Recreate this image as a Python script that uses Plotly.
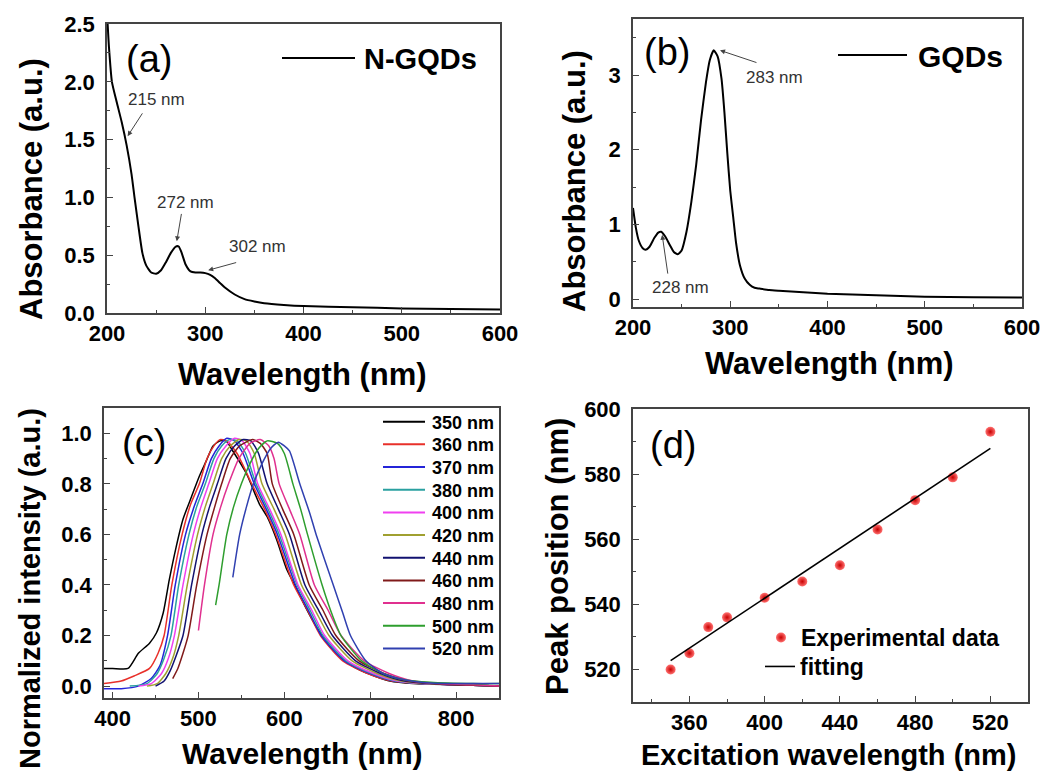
import plotly.graph_objects as go

W, H = 1045, 775
FONT = "Liberation Sans, Arial, sans-serif"
AXC = "#444444"

# ---------------- data ----------------
# (a) N-GQDs absorbance
a_wl = [200, 202, 205, 210, 215, 220, 225, 228, 232, 236, 240, 245, 250, 255, 260, 265, 270, 273,
        276, 280, 285, 290, 295, 300, 305, 310, 315, 320, 330, 340, 350, 360, 380, 400, 450, 500, 550, 600]
a_abs = [2.6, 2.3, 2.0, 1.82, 1.65, 1.45, 1.2, 1.0, 0.75, 0.52, 0.41, 0.35, 0.34, 0.37, 0.44, 0.52, 0.575, 0.575,
         0.52, 0.42, 0.36, 0.35, 0.35, 0.345, 0.33, 0.3, 0.26, 0.22, 0.16, 0.12, 0.1, 0.085, 0.07, 0.06, 0.05, 0.04, 0.035, 0.03]

# (b) GQDs absorbance
b_wl = [200, 203, 206, 210, 213, 217, 222, 226, 229, 233, 238, 242, 246, 250, 255, 260, 265, 270, 275, 279,
        283, 287, 291, 294, 297, 300, 303, 306, 310, 315, 320, 325, 330, 340, 350, 375, 400, 450, 500, 550, 600]
b_abs = [1.22, 0.95, 0.78, 0.68, 0.66, 0.7, 0.82, 0.89, 0.9, 0.84, 0.72, 0.63, 0.6, 0.65, 0.9, 1.3, 1.8, 2.4, 2.9, 3.2,
         3.33, 3.25, 2.95, 2.5, 1.95, 1.45, 1.1, 0.75, 0.45, 0.27, 0.19, 0.15, 0.14, 0.12, 0.11, 0.09, 0.07, 0.05, 0.03, 0.025, 0.02]

# (c) normalized PL spectra for each excitation wavelength
c_labels = ["350 nm", "360 nm", "370 nm", "380 nm", "400 nm", "420 nm",
            "440 nm", "460 nm", "480 nm", "500 nm", "520 nm"]
c_colors = ["#000000", "#E8302A", "#2424D8", "#2AA0A0", "#F040F0", "#A0A030",
            "#121270", "#801A1A", "#E0308F", "#2E9E2E", "#3040B0"]
c_x = [
    [390, 400, 418, 430, 443, 451, 459, 466, 474, 482, 492, 501, 509, 517, 525, 532, 540, 556, 571, 580, 591, 603, 612, 625, 638, 657, 675, 688, 705, 723, 750, 800, 850],
    [390, 410, 425, 443, 453, 460, 469, 481, 491, 501, 510, 518, 525, 533, 545, 562, 577, 590, 611, 627, 642, 668, 697, 725, 760, 800, 850],
    [390, 410, 430, 445, 455, 464, 473, 485, 495, 505, 515, 524, 533, 542, 552, 565, 579, 592, 613, 628, 643, 670, 700, 728, 760, 800, 850],
    [420, 440, 452, 460, 468, 477, 489, 498, 508, 518, 527, 536, 545, 555, 567, 581, 594, 615, 630, 645, 672, 702, 730, 760, 800, 850],
    [430, 445, 457, 465, 472, 482, 494, 503, 512, 522, 532, 542, 551, 560, 569, 583, 596, 616, 632, 647, 674, 704, 732, 762, 800, 850],
    [440, 452, 462, 470, 477, 487, 499, 508, 517, 527, 537, 547, 556, 565, 574, 588, 601, 620, 636, 652, 679, 708, 736, 765, 800, 850],
    [450, 460, 467, 474, 482, 492, 504, 513, 522, 532, 542, 552, 561, 570, 580, 593, 606, 624, 640, 656, 683, 712, 740, 770, 800, 850],
    [470, 476, 482, 488, 498, 510, 519, 527, 537, 548, 563, 572, 580, 586, 598, 611, 629, 645, 660, 687, 716, 744, 772, 800, 850],
    [500, 507, 517, 526, 535, 547, 560, 572, 582, 588, 594, 606, 618, 635, 651, 666, 693, 722, 750, 780, 820, 850],
    [520, 524, 533, 541, 550, 560, 570, 580, 592, 600, 610, 619, 627, 644, 656, 666, 690, 715, 740, 770, 820, 850],
    [540, 548, 556, 564, 574, 584, 593, 600, 606, 618, 630, 637, 657, 668, 677, 695, 715, 740, 770, 820, 850],
]
c_y = [
    [0.07, 0.07, 0.07, 0.13, 0.17, 0.21, 0.29, 0.42, 0.55, 0.66, 0.75, 0.83, 0.89, 0.95, 0.97, 0.97, 0.93, 0.84, 0.72, 0.67, 0.58, 0.46, 0.40, 0.31, 0.23, 0.14, 0.09, 0.063, 0.04, 0.02, 0.01, 0.005, 0.0],
    [0.01, 0.02, 0.04, 0.07, 0.13, 0.2, 0.4, 0.6, 0.72, 0.8, 0.9, 0.95, 0.975, 0.97, 0.92, 0.8, 0.7, 0.6, 0.4, 0.3, 0.2, 0.1, 0.05, 0.02, 0.01, 0.005, 0.0],
    [-0.01, -0.01, 0.0, 0.03, 0.08, 0.2, 0.4, 0.6, 0.71, 0.8, 0.9, 0.95, 0.98, 0.97, 0.92, 0.8, 0.7, 0.6, 0.4, 0.3, 0.2, 0.1, 0.05, 0.02, 0.01, 0.005, 0.0],
    [0.0, 0.01, 0.05, 0.11, 0.2, 0.4, 0.6, 0.71, 0.8, 0.9, 0.95, 0.975, 0.97, 0.92, 0.8, 0.7, 0.6, 0.4, 0.3, 0.2, 0.1, 0.05, 0.02, 0.01, 0.005, 0.0],
    [0.0, 0.01, 0.05, 0.11, 0.2, 0.4, 0.6, 0.71, 0.8, 0.9, 0.95, 0.98, 0.97, 0.92, 0.8, 0.7, 0.6, 0.4, 0.3, 0.2, 0.1, 0.05, 0.02, 0.01, 0.005, 0.0],
    [0.0, 0.01, 0.05, 0.11, 0.2, 0.4, 0.6, 0.71, 0.8, 0.9, 0.95, 0.975, 0.97, 0.92, 0.8, 0.7, 0.6, 0.4, 0.3, 0.2, 0.1, 0.05, 0.02, 0.01, 0.005, 0.0],
    [0.0, 0.02, 0.06, 0.12, 0.2, 0.4, 0.6, 0.71, 0.8, 0.9, 0.95, 0.975, 0.97, 0.92, 0.8, 0.7, 0.6, 0.4, 0.3, 0.2, 0.1, 0.05, 0.02, 0.01, 0.005, 0.0],
    [0.03, 0.07, 0.13, 0.2, 0.4, 0.6, 0.71, 0.8, 0.9, 0.95, 0.975, 0.96, 0.92, 0.8, 0.7, 0.6, 0.4, 0.3, 0.2, 0.1, 0.05, 0.02, 0.01, 0.005, 0.0],
    [0.22, 0.4, 0.6, 0.71, 0.8, 0.9, 0.96, 0.975, 0.95, 0.9, 0.8, 0.7, 0.6, 0.4, 0.3, 0.2, 0.1, 0.05, 0.02, 0.01, 0.005, 0.0],
    [0.32, 0.4, 0.6, 0.71, 0.8, 0.88, 0.94, 0.97, 0.96, 0.92, 0.8, 0.7, 0.6, 0.4, 0.28, 0.2, 0.1, 0.05, 0.025, 0.015, 0.01, 0.01],
    [0.43, 0.6, 0.71, 0.8, 0.88, 0.94, 0.965, 0.95, 0.93, 0.8, 0.68, 0.6, 0.4, 0.29, 0.2, 0.1, 0.05, 0.025, 0.012, 0.01, 0.01],
]

# (d) peak position vs excitation wavelength
d_exc = [350, 360, 370, 380, 400, 420, 440, 460, 480, 500, 520]
d_peak = [520, 525, 533, 536, 542, 547, 552, 563, 572, 579, 593]
fit_x = [350, 520]
fit_y = [522.7, 587.9]

# tick values / labels
ab_xticks = [200, 300, 400, 500, 600]
a_yticks = [0, 0.5, 1.0, 1.5, 2.0, 2.5]
a_ylabels = ["0.0", "0.5", "1.0", "1.5", "2.0", "2.5"]
b_yticks = [0, 1, 2, 3]
c_xticks = [400, 500, 600, 700, 800]
c_yticks = [0, 0.2, 0.4, 0.6, 0.8, 1.0]
c_ylabels = ["0.0", "0.2", "0.4", "0.6", "0.8", "1.0"]
d_xticks = [360, 400, 440, 480, 520]
d_yticks = [520, 540, 560, 580, 600]

# ---------------- helpers ----------------
def PX(x):
    return x / W

def PY(y):
    return 1 - y / H

def axis(rng, tickvals, labels, tick0, mdtick, domain, anchor, standoff):
    return dict(range=rng, domain=domain, anchor=anchor, showline=True, linecolor=AXC, linewidth=1.5,
                mirror=True, ticks="inside", ticklen=6, tickwidth=1.3, tickcolor=AXC,
                tickmode="array", tickvals=tickvals, ticktext=["<b>%s</b>" % t for t in labels],
                showgrid=False, zeroline=False, automargin=False, ticklabelstandoff=standoff,
                minor=dict(tickmode="linear", ticks="inside", ticklen=3.5, tickwidth=1.1, tickcolor=AXC,
                           dtick=mdtick, tick0=tick0, showgrid=False),
                tickfont=dict(family=FONT, size=22, color="black", weight="bold"))

fig = go.Figure()

fig.add_trace(go.Scatter(x=a_wl, y=a_abs, mode="lines", line=dict(color="black", width=2, shape="spline", smoothing=0.5),
                         xaxis="x", yaxis="y", showlegend=False, name="N-GQDs"))
fig.add_trace(go.Scatter(x=b_wl, y=b_abs, mode="lines", line=dict(color="black", width=2, shape="spline", smoothing=0.5),
                         xaxis="x2", yaxis="y2", showlegend=False, name="GQDs"))
for xs, ys, col, lab in zip(c_x, c_y, c_colors, c_labels):
    fig.add_trace(go.Scatter(x=xs, y=ys, mode="lines", line=dict(color=col, width=1.5, shape="spline", smoothing=0.6),
                             xaxis="x3", yaxis="y3", showlegend=False, name=lab))
fig.add_trace(go.Scatter(x=d_exc, y=d_peak, mode="markers", name="Experimental data",
                         marker=dict(size=10, color="#FF7070", line=dict(width=0),
                                     gradient=dict(type="radial", color="#C80000")),
                         xaxis="x4", yaxis="y4", showlegend=True, legend="legend"))
fig.add_trace(go.Scatter(x=fit_x, y=fit_y, mode="lines", name="fitting", line=dict(color="black", width=1.6),
                         xaxis="x4", yaxis="y4", showlegend=True, legend="legend2"))

# domains (pixel based)
dom_a = dict(x=[PX(107), PX(500)], y=[PY(313), PY(24)])
dom_b = dict(x=[PX(633), PX(1022)], y=[PY(307), PY(19)])
dom_c = dict(x=[PX(104), PX(499)], y=[PY(698), PY(408)])
dom_d = dict(x=[PX(633), PX(1028)], y=[PY(702), PY(409)])

leg_font = dict(family=FONT, size=23, color="black", weight="bold")
layout = dict(
    template="none",
    width=W, height=H, margin=dict(l=0, r=0, t=0, b=0, pad=0, autoexpand=False),
    paper_bgcolor="white", plot_bgcolor="white",
    font=dict(family=FONT, color="black"),
    xaxis=axis([200, 600], ab_xticks, [str(v) for v in ab_xticks], 200, 50, dom_a["x"], "y", 0),
    yaxis=axis([0, 2.5], a_yticks, a_ylabels, 0, 0.25, dom_a["y"], "x", 6),
    xaxis2=axis([200, 600], ab_xticks, [str(v) for v in ab_xticks], 200, 50, dom_b["x"], "y2", 0),
    yaxis2=axis([-0.107, 3.75], b_yticks, [str(v) for v in b_yticks], 0, 0.5, dom_b["y"], "x2", 6),
    xaxis3=axis([390, 850], c_xticks, [str(v) for v in c_xticks], 400, 50, dom_c["x"], "y3", 0),
    yaxis3=axis([-0.047, 1.1], c_yticks, c_ylabels, 0, 0.1, dom_c["y"], "x3", 6),
    xaxis4=axis([330, 540], d_xticks, [str(v) for v in d_xticks], 360, 20, dom_d["x"], "y4", 0),
    yaxis4=axis([510, 600], d_yticks, [str(v) for v in d_yticks], 520, 10, dom_d["y"], "x4", 6),
    legend=dict(x=PX(761), y=PY(616), xanchor="left", yanchor="top", bgcolor="rgba(0,0,0,0)",
                font=leg_font, borderwidth=0),
    legend2=dict(x=PX(760), y=PY(645), xanchor="left", yanchor="top", bgcolor="rgba(0,0,0,0)",
                 font=leg_font, borderwidth=0),
)
fig.update_layout(**layout)

ann = []
shapes = []

def text(x, y, s, size, bold=True, angle=0, xanchor="center", color="black"):
    ann.append(dict(x=PX(x), y=PY(y), xref="paper", yref="paper", text=s, showarrow=False,
                    xanchor=xanchor, yanchor="middle", textangle=angle,
                    font=dict(family=FONT, size=size, color=color, weight="bold" if bold else "normal")))

# panel letters
text(149, 59, "(a)", 38, bold=False)
text(667, 52, "(b)", 38, bold=False)
text(144, 443, "(c)", 38, bold=False)
text(673, 445, "(d)", 38, bold=False)

# axis titles
text(302, 374, "Wavelength (nm)", 31)
text(829, 363, "Wavelength (nm)", 31)
text(302, 753, "Wavelength (nm)", 30)
text(828, 755, "Excitation wavelength (nm)", 29)
text(31, 189, "Absorbance (a.u.)", 31, angle=-90)
text(575, 181, "Absorbance (a.u.)", 31, angle=-90)
text(30, 589, "Normalized intensity (a.u.)", 29, angle=-90)
text(557, 557, "Peak position (nm)", 31, angle=-90)

# legends (a),(b)
shapes.append(dict(type="line", xref="paper", yref="paper", x0=PX(282), x1=PX(355), y0=PY(58), y1=PY(58),
                   line=dict(color="black", width=2)))
text(362, 59, "N-GQDs", 29, xanchor="left")
shapes.append(dict(type="line", xref="paper", yref="paper", x0=PX(838), x1=PX(907), y0=PY(55), y1=PY(55),
                   line=dict(color="black", width=2)))
text(916, 56, "GQDs", 30, xanchor="left")

# legend (c)
for i, (lab, col) in enumerate(zip(c_labels, c_colors)):
    yy = 421.7 + i * 22.67
    shapes.append(dict(type="line", xref="paper", yref="paper", x0=PX(383), x1=PX(425), y0=PY(yy), y1=PY(yy),
                       line=dict(color=col, width=2)))
    text(430, yy + 1, lab, 18, xanchor="left")

# peak annotations
def label(x, y, s, xr, yr):
    ann.append(dict(x=x, y=y, xref=xr, yref=yr, text=s, showarrow=False, xanchor="center", yanchor="middle",
                    font=dict(family=FONT, size=17, color="#333333")))

def arrow(x, y, ax_, ay_, xr, yr):
    ann.append(dict(x=x, y=y, ax=ax_, ay=ay_, xref=xr, yref=yr, axref=xr, ayref=yr, text="",
                    showarrow=True, arrowhead=2, arrowsize=1, arrowwidth=1, arrowcolor="#444444", standoff=0))

label(250, 1.85, "215 nm", "x", "y")
arrow(221, 1.53, 237, 1.74, "x", "y")
label(280, 0.955, "272 nm", "x", "y")
arrow(271, 0.62, 276, 0.87, "x", "y")
label(353, 0.573, "302 nm", "x", "y")
arrow(303, 0.37, 333, 0.44, "x", "y")
label(345.5, 2.97, "283 nm", "x2", "y2")
arrow(289.5, 3.33, 328.5, 3.16, "x2", "y2")
label(248.6, 0.157, "228 nm", "x2", "y2")
arrow(230, 0.86, 236, 0.32, "x2", "y2")

fig.update_layout(annotations=ann, shapes=shapes)
fig.write_html("out.html")
